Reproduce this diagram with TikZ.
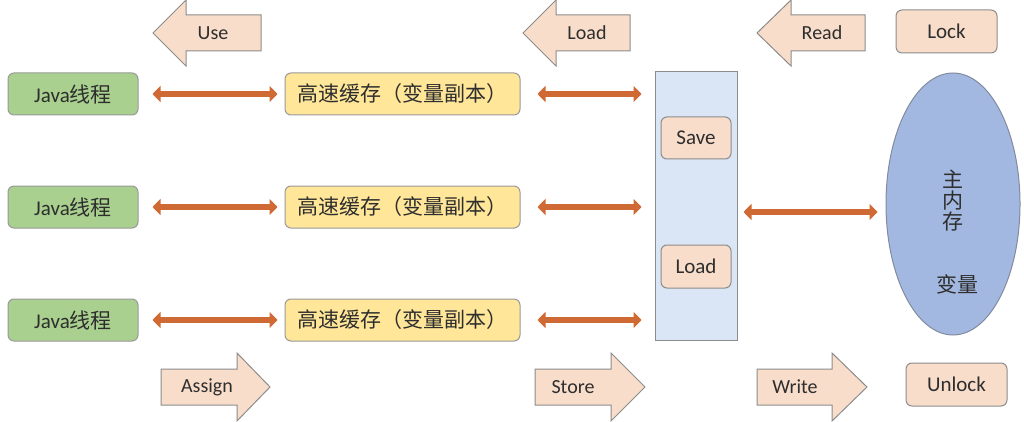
\documentclass[tikz,border=0pt]{standalone}
\usepackage{fontspec}
\setmainfont{Carlito}
\newfontfamily\cjk{Noto Sans CJK SC}
\usetikzlibrary{shapes.geometric,arrows.meta}

\definecolor{txtgray}{HTML}{2E2E2E}
\definecolor{threadgreen}{HTML}{A9D08E}
\definecolor{cacheyellow}{HTML}{FFE699}
\definecolor{oppeach}{HTML}{F8DDCB}
\definecolor{barblue}{HTML}{DAE5F5}
\definecolor{memblue}{HTML}{A3B8E0}
\definecolor{arrowor}{HTML}{D06A35}

\tikzset{
  box/.style={rounded corners=6pt, line width=1pt, text=txtgray,
    font=\fontsize{21}{24}\selectfont, inner sep=0pt},
  jthread/.style={box, draw=gray!80, fill=threadgreen,
    minimum width=130pt, minimum height=42pt},
  cache/.style={box, draw=gray!80, fill=cacheyellow,
    minimum width=235pt, minimum height=42pt},
  opbox/.style={box, draw=gray!90, fill=oppeach,
    minimum width=101pt, minimum height=43pt},
  blk/.style={draw=gray!90, fill=oppeach, line width=1pt},
  lbl/.style={text=txtgray, font=\fontsize{20}{24}\selectfont},
  dbl/.style={draw=arrowor, line width=6pt,
    {Triangle[length=8pt,width=16pt]}-{Triangle[length=8pt,width=16pt]}}
}

\begin{document}
\begin{tikzpicture}[x=1pt,y=-1pt]
\useasboundingbox (0,0) rectangle (1024,422);

% threads and caches
\node[jthread] (t1) at (73,94) {Java{\cjk 线程}};
\node[jthread] (t2) at (73,207) {Java{\cjk 线程}};
\node[jthread] (t3) at (73,320) {Java{\cjk 线程}};

\node[cache] (c1) at (402.5,94) {{\cjk 高速缓存（变量副本）}};
\node[cache] (c2) at (402.5,207) {{\cjk 高速缓存（变量副本）}};
\node[cache] (c3) at (402.5,320) {{\cjk 高速缓存（变量副本）}};

% working memory column
\node[draw=gray!90, fill=barblue, line width=1pt, minimum width=82pt,
  minimum height=268pt] (bar) at (696,206) {};
\node[opbox, minimum width=70pt, minimum height=42pt] (save) at (696,138) {Save};
\node[opbox, minimum width=70pt, minimum height=43pt] (load) at (696,266.5) {Load};

% main memory
\node[ellipse, draw=memblue!60!black!80, fill=memblue, line width=1pt,
  minimum width=134pt, minimum height=262pt] (mem) at (953,204) {};
\node[align=center, text=txtgray, font=\cjk\fontsize{21}{21}\selectfont]
  (memtxt) at (953,201) {主\\内\\存};
\node[text=txtgray, font=\cjk\fontsize{21}{24}\selectfont] (vartxt) at (957,284) {变量};

\node[opbox] (lock) at (946.5,31.5) {Lock};
\node[opbox] (unlock) at (956.5,384.5) {Unlock};

% connectors
\draw[dbl, shorten <=14pt, shorten >=7pt] (t1) -- (c1);
\draw[dbl, shorten <=14pt, shorten >=7pt] (t2) -- (c2);
\draw[dbl, shorten <=14pt, shorten >=7pt] (t3) -- (c3);
\draw[dbl, shorten <=17pt, shorten >=13pt] (c1.east) -- (c1.east -| bar.west);
\draw[dbl, shorten <=17pt, shorten >=13pt] (c2.east) -- (c2.east -| bar.west);
\draw[dbl, shorten <=17pt, shorten >=13pt] (c3.east) -- (c3.east -| bar.west);
\draw[dbl, shorten <=6pt, shorten >=8pt] ([yshift=-6pt]bar.east) -- ([yshift=-6pt]bar.east -| mem.west);

% block arrows, top
\draw[blk] (153,33) -- (186,0) -- (186,15) -- (261,15) -- (261,51) -- (186,51) -- (186,66) -- cycle;
\node[lbl] (use) at (213,33) {Use};

\draw[blk] (523,33) -- (556,0) -- (556,15) -- (630,15) -- (630,51) -- (556,51) -- (556,66) -- cycle;
\node[lbl] (loadop) at (587,33) {Load};

\draw[blk] (757,33) -- (791,0) -- (791,15) -- (865,15) -- (865,51) -- (791,51) -- (791,66) -- cycle;
\node[lbl] (read) at (822,33) {Read};

% block arrows, bottom
\draw[blk] (161,369) -- (237,369) -- (237,353) -- (270,387) -- (237,421) -- (237,405) -- (161,405) -- cycle;
\node[lbl] (assign) at (207,387) {Assign};

\draw[blk] (535,369) -- (611,369) -- (611,353) -- (645,387) -- (611,421) -- (611,405) -- (535,405) -- cycle;
\node[lbl] (store) at (573,387) {Store};

\draw[blk] (757,369) -- (832,369) -- (832,353) -- (867,387) -- (832,421) -- (832,405) -- (757,405) -- cycle;
\node[lbl] (write) at (795,387) {Write};
\end{tikzpicture}
\end{document}
